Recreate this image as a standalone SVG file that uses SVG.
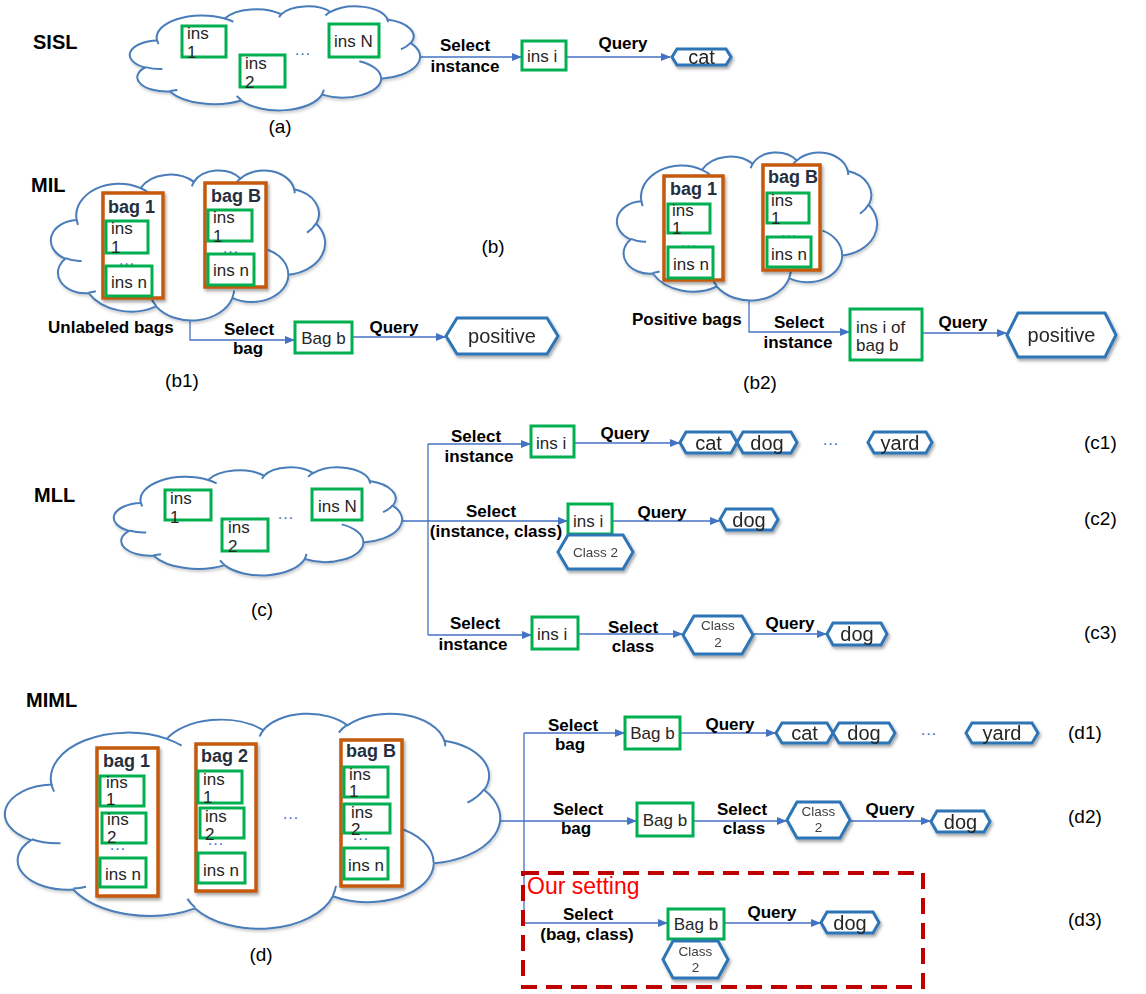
<svg xmlns="http://www.w3.org/2000/svg" xmlns:xlink="http://www.w3.org/1999/xlink" width="1146" height="994" viewBox="0 0 1146 994">
<style>
.g{fill:#fff;stroke:#00B050;stroke-width:3}
.bag{fill:#fff;stroke:#C55A11;stroke-width:3.5}
.hex{fill:#fff;stroke:#2E75B6;stroke-width:3}
.conn{fill:none;stroke:#4472C4;stroke-width:1.3}
.lb{font-family:"Liberation Sans",Arial,sans-serif;font-weight:bold;font-size:17px;fill:#000;text-anchor:middle}
.lbs{font-family:"Liberation Sans",Arial,sans-serif;font-weight:bold;font-size:17px;fill:#000}
.tx{font-family:"Liberation Sans",Arial,sans-serif;font-size:17px;fill:#262626}
.txm{font-family:"Liberation Sans",Arial,sans-serif;font-size:17px;fill:#262626;text-anchor:middle}
.ht{font-family:"Liberation Sans",Arial,sans-serif;font-size:20px;fill:#262626;text-anchor:middle}
.cl{font-family:"Liberation Sans",Arial,sans-serif;font-size:13.5px;fill:#404040;text-anchor:middle}
.bt{font-family:"Liberation Sans",Arial,sans-serif;font-weight:bold;font-size:18px;fill:#262F3E}
.ttl{font-family:"Liberation Sans",Arial,sans-serif;font-weight:bold;font-size:20px;fill:#000}
.cap{font-family:"Liberation Sans",Arial,sans-serif;font-size:19px;fill:#000}
.capm{font-family:"Liberation Sans",Arial,sans-serif;font-size:19px;fill:#000;text-anchor:middle}
.dots{font-family:"Liberation Sans",Arial,sans-serif;font-size:17px;fill:#4472C4}
</style>
<defs>
<path id="cloudO" fill="#fff" stroke="#4A7DBA" stroke-width="2" vector-effect="non-scaling-stroke" d="M9.03,33.26 A15.63,21.27 0 0 1 32.42,12.04 A12.34,16.82 0 0 1 51.98,7.94 A10.10,13.76 0 0 1 69.05,5.74 A11.24,15.27 0 0 1 88.70,12.90 A12.34,16.84 0 0 1 96.80,35.78 A15.68,21.34 0 0 1 86.58,69.91 A13.39,18.21 0 0 1 66.10,85.21 A15.63,21.33 0 0 1 38.15,90.88 A17.87,24.41 0 0 1 13.43,82.10 A10.09,13.70 0 0 1 4.89,59.13 A10.06,13.76 0 0 1 9.03,33.26 Z"/>
<path id="cloudI" fill="none" stroke="#4A7DBA" stroke-width="2" vector-effect="non-scaling-stroke" d="M10.86,60.59 A10.06,13.76 0 0 1 5.00,58.75 M16.04,80.78 A10.09,13.70 0 0 1 13.47,81.67 M38.14,90.49 A15.63,21.33 0 0 1 36.60,86.46 M66.73,80.44 A15.63,21.33 0 0 1 66.11,84.86 M79.00,53.13 A13.39,18.21 0 0 1 86.53,69.65 M96.75,35.54 A12.34,16.84 0 0 1 93.40,41.73 M88.71,12.56 A11.24,15.27 0 0 1 88.89,15.49 M67.31,9.15 A11.24,15.27 0 0 1 69.03,5.42 M51.25,10.93 A10.10,13.76 0 0 1 52.08,7.71 M32.41,12.02 A15.63,21.27 0 0 1 35.42,15.14 M9.55,36.55 A15.63,21.27 0 0 1 9.03,33.26"/>
<marker id="arr" markerWidth="10" markerHeight="8" refX="9" refY="4" orient="auto" markerUnits="userSpaceOnUse"><path d="M0,0 L10,4 L0,8 Z" fill="#4472C4"/></marker>
<filter id="sh" x="-20%" y="-30%" width="150%" height="170%"><feDropShadow dx="1.5" dy="2.5" stdDeviation="1.5" flood-color="#000" flood-opacity="0.35"/></filter>
<filter id="shc" x="-10%" y="-10%" width="120%" height="130%"><feDropShadow dx="1" dy="2" stdDeviation="1.5" flood-color="#000" flood-opacity="0.2"/></filter>
</defs>
<rect width="1146" height="994" fill="#fff"/>

<g id="connectors" class="conn">
<path d="M420,57 L521,57" marker-end="url(#arr)"/>
<path d="M566,57 L670,57" marker-end="url(#arr)"/>
<path d="M190,318 L190,340 L294,340" marker-end="url(#arr)"/>
<path d="M352,337 L445,337" marker-end="url(#arr)"/>
<path d="M749,298 L749,332 L849,332" marker-end="url(#arr)"/>
<path d="M922,333 L1006,333" marker-end="url(#arr)"/>
<path d="M400,521 L567,521" marker-end="url(#arr)"/>
<path d="M428,444 L428,635"/>
<path d="M428,444 L530,444" marker-end="url(#arr)"/>
<path d="M428,635 L531,635" marker-end="url(#arr)"/>
<path d="M574,443 L679,443" marker-end="url(#arr)"/>
<path d="M612,521 L719,521" marker-end="url(#arr)"/>
<path d="M578,634 L682,634" marker-end="url(#arr)"/>
<path d="M753,634 L826,634" marker-end="url(#arr)"/>
<path d="M498,821 L636,821" marker-end="url(#arr)"/>
<path d="M524,733 L524,923"/>
<path d="M524,733 L624,733" marker-end="url(#arr)"/>
<path d="M680,733 L775,733" marker-end="url(#arr)"/>
<path d="M693,821 L786,821" marker-end="url(#arr)"/>
<path d="M850,821 L930,821" marker-end="url(#arr)"/>
<path d="M524,923 L667,923" marker-end="url(#arr)"/>
<path d="M724,923 L820,923" marker-end="url(#arr)"/>
</g>

<g id="titles">
<text class="ttl" x="33" y="49">SISL</text>
<text class="ttl" x="31" y="192">MIL</text>
<text class="ttl" x="34" y="502">MLL</text>
<text class="ttl" x="26" y="707">MIML</text>
</g>

<g id="sisl-cloud">
<g filter="url(#shc)"><use href="#cloudO" transform="translate(131,6) scale(2.89,1.04)"/></g>
<use href="#cloudI" transform="translate(131,6) scale(2.89,1.04)"/>
<rect class="g" x="182" y="26" width="44" height="31"/>
<text class="tx" x="187" y="39">ins</text><text class="tx" x="187" y="58">1</text>
<rect class="g" x="240" y="55" width="45" height="32"/>
<text class="tx" x="245" y="69">ins</text><text class="tx" x="245" y="88">2</text>
<text class="dots" x="294" y="55">…</text>
<rect class="g" x="329" y="24" width="50" height="33"/>
<text class="tx" x="334" y="47">ins N</text>
</g>
<g id="sisl-flow">
<text class="capm" x="280" y="133">(a)</text>
<text class="lb" x="465" y="51">Select</text><text class="lb" x="465" y="72">instance</text>
<rect class="g" x="522" y="41" width="44" height="29"/>
<text class="tx" x="527" y="62">ins i</text>
<text class="lb" x="623" y="49">Query</text>
<g filter="url(#sh)"><polygon class="hex" points="672,57 677,49 726,49 731,57 726,65 677,65"/><text class="ht" x="701.5" y="64">cat</text></g>
</g>

<g id="mil-b1">
<g filter="url(#shc)"><use href="#cloudO" transform="translate(52,170) scale(2.73,1.5)"/></g>
<use href="#cloudI" transform="translate(52,170) scale(2.73,1.5)"/>
<rect class="bag" x="103" y="193" width="60" height="105" filter="url(#sh)"/>
<text class="bt" x="108" y="213">bag 1</text>
<rect class="g" x="106" y="221" width="42" height="32"/>
<text class="tx" x="111" y="234">ins</text><text class="tx" x="111" y="253">1</text>
<text class="dots" x="118" y="265">…</text>
<rect class="g" x="106" y="266" width="46" height="30"/>
<text class="tx" x="111" y="288">ins n</text>
<rect class="bag" x="205" y="183" width="61" height="104" filter="url(#sh)"/>
<text class="bt" x="211" y="202">bag B</text>
<rect class="g" x="208" y="210" width="44" height="31"/>
<text class="tx" x="213" y="223">ins</text><text class="tx" x="213" y="242">1</text>
<text class="dots" x="222" y="253">…</text>
<rect class="g" x="208" y="254" width="46" height="31"/>
<text class="tx" x="213" y="276">ins n</text>
<text class="lbs" x="48" y="333">Unlabeled bags</text>
</g>
<g id="mil-b1-flow">
<text class="capm" x="493" y="253">(b)</text>
<text class="lb" x="249" y="335">Select</text><text class="lb" x="248" y="354">bag</text>
<rect class="g" x="295" y="322" width="57" height="31"/>
<text class="txm" x="323.5" y="344">Bag b</text>
<text class="lb" x="394" y="333">Query</text>
<g filter="url(#sh)"><polygon class="hex" points="446,336 457,318 547,318 558,336 547,354 457,354"/><text class="ht" x="502" y="343">positive</text></g>
<text class="capm" x="182" y="387">(b1)</text>
</g>

<g id="mil-b2">
<g filter="url(#shc)"><use href="#cloudO" transform="translate(618,152) scale(2.59,1.48)"/></g>
<use href="#cloudI" transform="translate(618,152) scale(2.59,1.48)"/>
<rect class="bag" x="664" y="176" width="59" height="104" filter="url(#sh)"/>
<text class="bt" x="670" y="195">bag 1</text>
<rect class="g" x="668" y="204" width="42" height="29"/>
<text class="tx" x="672" y="216">ins</text><text class="tx" x="672" y="234">1</text>
<text class="dots" x="680" y="247">…</text>
<rect class="g" x="668" y="247" width="45" height="31"/>
<text class="tx" x="673" y="270">ins n</text>
<rect class="bag" x="763" y="165" width="57" height="105" filter="url(#sh)"/>
<text class="bt" x="768" y="183">bag B</text>
<rect class="g" x="767" y="193" width="42" height="30"/>
<text class="tx" x="771" y="206">ins</text><text class="tx" x="771" y="224">1</text>
<text class="dots" x="780" y="237">…</text>
<rect class="g" x="767" y="237" width="44" height="30"/>
<text class="tx" x="771" y="260">ins n</text>
<text class="lbs" x="632" y="325">Positive bags</text>
</g>
<g id="mil-b2-flow">
<text class="lb" x="799" y="328">Select</text><text class="lb" x="798" y="348">instance</text>
<rect class="g" x="850" y="309" width="72" height="51"/>
<text class="tx" x="856" y="333">ins i of</text><text class="tx" x="856" y="351">bag b</text>
<text class="lb" x="963" y="328">Query</text>
<g filter="url(#sh)"><polygon class="hex" points="1007,335 1018,313 1105,313 1116,335 1105,357 1018,357"/><text class="ht" x="1061.5" y="342">positive</text></g>
<text class="capm" x="760" y="389">(b2)</text>
</g>

<g id="mll-cloud">
<g filter="url(#shc)"><use href="#cloudO" transform="translate(115,467) scale(2.87,1.08)"/></g>
<use href="#cloudI" transform="translate(115,467) scale(2.87,1.08)"/>
<rect class="g" x="165" y="490" width="46" height="30"/>
<text class="tx" x="170" y="504">ins</text><text class="tx" x="170" y="523">1</text>
<rect class="g" x="222" y="519" width="46" height="32"/>
<text class="tx" x="228" y="533">ins</text><text class="tx" x="228" y="552">2</text>
<text class="dots" x="277" y="519">…</text>
<rect class="g" x="312" y="489" width="50" height="31"/>
<text class="tx" x="318" y="512">ins N</text>
<text class="capm" x="262" y="616">(c)</text>
</g>
<g id="mll-c1">
<text class="lb" x="476" y="442">Select</text><text class="lb" x="479" y="462">instance</text>
<rect class="g" x="531" y="426" width="43" height="31"/>
<text class="tx" x="536" y="449">ins i</text>
<text class="lb" x="625" y="439">Query</text>
<g filter="url(#sh)">
<polygon class="hex" points="680,442.5 686,432 731,432 737,442.5 731,453 686,453"/><text class="ht" x="708.5" y="450">cat</text>
<polygon class="hex" points="737,442.5 743,432 791,432 797,442.5 791,453 743,453"/><text class="ht" x="767" y="450">dog</text>
</g>
<text class="dots" x="822" y="445">…</text>
<g filter="url(#sh)"><polygon class="hex" points="868,442.5 874,432 926,432 932,442.5 926,453 874,453"/><text class="ht" x="900" y="450">yard</text></g>
<text class="cap" x="1084" y="449">(c1)</text>
</g>
<g id="mll-c2">
<text class="lb" x="491" y="517">Select</text><text class="lb" x="496" y="537">(instance, class)</text>
<rect class="g" x="568" y="504" width="44" height="30"/>
<text class="tx" x="573" y="527">ins i</text>
<g filter="url(#sh)"><polygon class="hex" points="558,552 568,535 623,535 633,552 623,569 568,569"/><text class="cl" x="595.5" y="557">Class 2</text></g>
<text class="lb" x="662" y="518">Query</text>
<g filter="url(#sh)"><polygon class="hex" points="720,519.5 726,509 772,509 778,519.5 772,530 726,530"/><text class="ht" x="749" y="527">dog</text></g>
<text class="cap" x="1084" y="525">(c2)</text>
</g>
<g id="mll-c3">
<text class="lb" x="475" y="629">Select</text><text class="lb" x="473" y="650">instance</text>
<rect class="g" x="532" y="617" width="46" height="32"/>
<text class="tx" x="537" y="640">ins i</text>
<text class="lb" x="633" y="633">Select</text><text class="lb" x="633" y="652">class</text>
<g filter="url(#sh)"><polygon class="hex" points="683,635 694,616 742,616 753,635 742,654 694,654"/><text class="cl" x="718" y="630">Class</text><text class="cl" x="718" y="647">2</text></g>
<text class="lb" x="790" y="629">Query</text>
<g filter="url(#sh)"><polygon class="hex" points="827,634 833,623 881,623 887,634 881,645 833,645"/><text class="ht" x="857" y="641">dog</text></g>
<text class="cap" x="1084" y="639">(c3)</text>
</g>

<g id="miml-cloud">
<g filter="url(#shc)"><use href="#cloudO" transform="translate(7,713) scale(4.93,2.15)"/></g>
<use href="#cloudI" transform="translate(7,713) scale(4.93,2.15)"/>
<rect class="bag" x="97" y="748" width="61" height="148" filter="url(#sh)"/>
<text class="bt" x="103" y="767">bag 1</text>
<rect class="g" x="100" y="776" width="44" height="30"/>
<text class="tx" x="106" y="788">ins</text><text class="tx" x="106" y="805">1</text>
<rect class="g" x="102" y="813" width="44" height="30"/>
<text class="tx" x="107" y="825">ins</text><text class="tx" x="107" y="843">2</text>
<text class="dots" x="109" y="850">…</text>
<rect class="g" x="100" y="858" width="46" height="29"/>
<text class="tx" x="105" y="880">ins n</text>
<rect class="bag" x="196" y="744" width="60" height="147" filter="url(#sh)"/>
<text class="bt" x="201" y="762">bag 2</text>
<rect class="g" x="198" y="771" width="44" height="32"/>
<text class="tx" x="203" y="785">ins</text><text class="tx" x="203" y="803">1</text>
<rect class="g" x="200" y="808" width="44" height="30"/>
<text class="tx" x="205" y="822">ins</text><text class="tx" x="205" y="840">2</text>
<text class="dots" x="207" y="845">…</text>
<rect class="g" x="198" y="853" width="47" height="30"/>
<text class="tx" x="203" y="876">ins n</text>
<text class="dots" x="282" y="819">…</text>
<rect class="bag" x="341" y="740" width="61" height="146" filter="url(#sh)"/>
<text class="bt" x="346" y="757">bag B</text>
<rect class="g" x="344" y="767" width="44" height="30"/>
<text class="tx" x="349" y="780">ins</text><text class="tx" x="349" y="797">1</text>
<rect class="g" x="344" y="804" width="46" height="29"/>
<text class="tx" x="351" y="818">ins</text><text class="tx" x="351" y="835">2</text>
<text class="dots" x="352" y="840">…</text>
<rect class="g" x="344" y="848" width="44" height="31"/>
<text class="tx" x="348" y="871">ins n</text>
<text class="capm" x="261" y="961">(d)</text>
</g>
<g id="miml-d1">
<text class="lb" x="573" y="731">Select</text><text class="lb" x="570" y="750">bag</text>
<rect class="g" x="625" y="717" width="55" height="32"/>
<text class="txm" x="652.5" y="739">Bag b</text>
<text class="lb" x="730" y="730">Query</text>
<g filter="url(#sh)">
<polygon class="hex" points="776,733 782,723 827,723 833,733 827,743 782,743"/><text class="ht" x="804.5" y="740">cat</text>
<polygon class="hex" points="833,733 839,723 889,723 895,733 889,743 839,743"/><text class="ht" x="864" y="740">dog</text>
</g>
<text class="dots" x="920" y="735">…</text>
<g filter="url(#sh)"><polygon class="hex" points="966,733 972,723 1032,723 1038,733 1032,743 972,743"/><text class="ht" x="1002" y="740">yard</text></g>
<text class="cap" x="1068" y="739">(d1)</text>
</g>
<g id="miml-d2">
<text class="lb" x="578" y="815">Select</text><text class="lb" x="576" y="834">bag</text>
<rect class="g" x="637" y="803" width="56" height="33"/>
<text class="txm" x="665" y="826">Bag b</text>
<text class="lb" x="742" y="815">Select</text><text class="lb" x="744" y="834">class</text>
<g filter="url(#sh)"><polygon class="hex" points="787,820 797,802 840,802 850,820 840,838 797,838"/><text class="cl" x="818.5" y="816">Class</text><text class="cl" x="818.5" y="832">2</text></g>
<text class="lb" x="890" y="815">Query</text>
<g filter="url(#sh)"><polygon class="hex" points="931,821.5 937,811 984,811 990,821.5 984,832 937,832"/><text class="ht" x="960.5" y="829">dog</text></g>
<text class="cap" x="1068" y="823">(d2)</text>
</g>
<g id="miml-d3">
<rect x="523" y="873" width="400" height="114" fill="none" stroke="#C00000" stroke-width="4" stroke-dasharray="16 9"/>
<text x="527" y="894" font-family="Liberation Sans, Arial, sans-serif" font-size="23" fill="#FF0000">Our setting</text>
<text class="lb" x="588" y="920">Select</text><text class="lb" x="587" y="940">(bag, class)</text>
<rect class="g" x="668" y="909" width="56" height="30"/>
<text class="txm" x="696" y="930">Bag b</text>
<g filter="url(#sh)"><polygon class="hex" points="663,959.5 673,941 718,941 728,959.5 718,978 673,978"/><text class="cl" x="695.5" y="956">Class</text><text class="cl" x="695.5" y="972">2</text></g>
<text class="lb" x="772" y="918">Query</text>
<g filter="url(#sh)"><polygon class="hex" points="821,922.5 827,912 873,912 879,922.5 873,933 827,933"/><text class="ht" x="850" y="930">dog</text></g>
<text class="cap" x="1068" y="926">(d3)</text>
</g>
</svg>
